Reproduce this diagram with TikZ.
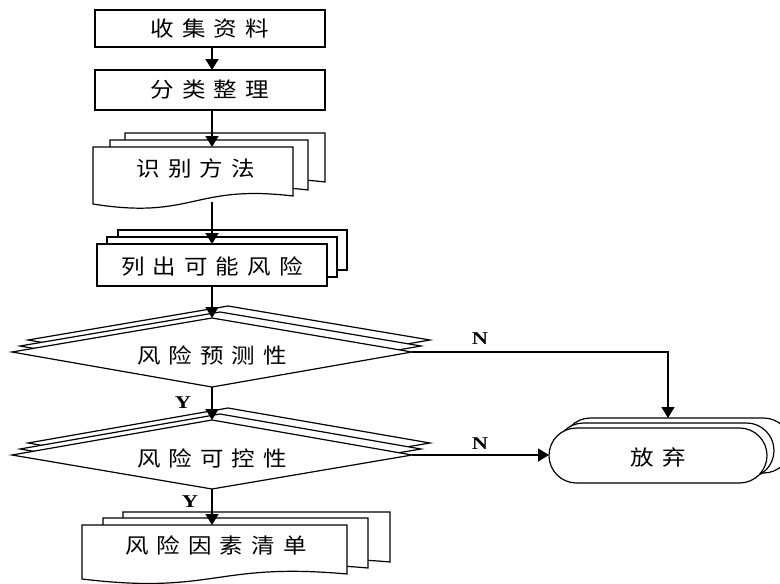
\documentclass[tikz,border=0pt]{standalone}
\usepackage{fontspec}
\usetikzlibrary{arrows.meta}
\newfontfamily\cjk[FakeStretch=1.12]{Noto Sans CJK SC}
\newfontfamily\latf[FakeStretch=1.25]{Liberation Serif}
\newcommand\gp{\hspace{8pt}}
% document shape: x1, top, x2, left-bottom y, right-bottom y
\newcommand\docsh[5]{\draw[shp] (#1,#2) -- (#3,#2) -- (#3,#5) .. controls ({(#1+#3)/2},{#5-12}) and ({(#1+#3)/2},{#4+16}) .. (#1,#4) -- cycle;}
\begin{document}
\begin{tikzpicture}[x=1pt,y=-1pt,
  shp/.style={draw=black, line width=1.2pt, fill=white, line join=miter},
  lbl/.style={font={\cjk\fontsize{21}{25}\selectfont}, inner sep=0pt},
  yn/.style={font={\latf\bfseries\fontsize{18}{20}\selectfont}, inner sep=0pt},
  arr/.style={draw=black, line width=1.8pt, -{Triangle[length=11pt,width=13pt]}},
  narr/.style={draw=black, line width=1.3pt, -{Triangle[length=11pt,width=13pt]}}]
\useasboundingbox (0,0) rectangle (780,584);

% box 1
\draw[shp] (95,10) rectangle (325,47);
\node[lbl] (t1) at (210,29) {收\gp{}集\gp{}资\gp{}料};
% box 2
\draw[shp] (95,70) rectangle (325,110);
\node[lbl] (t2) at (210,90) {分\gp{}类\gp{}整\gp{}理};
% box 3 (multi-document)
\docsh{125}{133}{325}{190}{182}
\docsh{110}{140}{308}{197}{190}
\docsh{93}{147}{293}{204}{196}
\node[lbl] (t3) at (196,168) {识\gp{}别\gp{}方\gp{}法};
% box 4 (stacked rectangles)
\draw[shp] (118,230) rectangle (347,270);
\draw[shp] (107,237) rectangle (337,277);
\draw[shp] (97,244) rectangle (327,286);
\node[lbl] (t4) at (212,266) {列\gp{}出\gp{}可\gp{}能\gp{}风\gp{}险};
% diamond 1
\draw[shp] (28,340) -- (228,306) -- (430,340) -- (228,375) -- cycle;
\draw[shp] (20,346) -- (220,312) -- (421,346) -- (220,381) -- cycle;
\draw[shp] (12,352) -- (212,318) -- (412,352) -- (212,387) -- cycle;
\node[lbl] (t5) at (212,355) {风\gp{}险\gp{}预\gp{}测\gp{}性};
% diamond 2
\draw[shp] (28,443) -- (228,408) -- (430,443) -- (228,477) -- cycle;
\draw[shp] (20,449) -- (220,414) -- (421,449) -- (220,483) -- cycle;
\draw[shp] (12,455) -- (212,420) -- (412,455) -- (212,489) -- cycle;
\node[lbl] (t6) at (212,458) {风\gp{}险\gp{}可\gp{}控\gp{}性};
% box 5 (multi-document)
\docsh{123}{512}{390}{566}{562}
\docsh{103}{518}{368}{572}{568}
\docsh{82}{525}{347}{579}{574}
\node[lbl] (t7) at (216,545) {风\gp{}险\gp{}因\gp{}素\gp{}清\gp{}单};
% terminator (stacked)
\draw[shp, rounded corners=27.5] (563,418) rectangle (791,473);
\draw[shp, rounded corners=27.5] (556,423) rectangle (774,478);
\draw[shp, rounded corners=27.5] (549,428) rectangle (767,483);
\node[lbl] (t8) at (658,457) {放\gp{}弃};

% anchor coordinates
\coordinate (b1s) at (212,47);
\coordinate (b2n) at (212,70);
\coordinate (b2s) at (212,110);
\coordinate (b3n) at (212,147);
\coordinate (b3s) at (212,202);
\coordinate (b4n) at (212,244);
\coordinate (b4s) at (212,286);
\coordinate (d1n) at (212,318);
\coordinate (d1s) at (212,387);
\coordinate (d1e) at (412,352);
\coordinate (d2n) at (212,420);
\coordinate (d2s) at (212,489);
\coordinate (d2e) at (412,455);
\coordinate (b5n) at (212,525);
\coordinate (abn) at (668,418);
\coordinate (abw) at (549,455);

% connectors
\draw[arr] (b1s) -- (b2n);
\draw[arr] (b2s) -- (b3n);
\draw[arr] (b3s) -- (b4n);
\draw[arr] (b4s) -- (d1n);
\draw[arr] (d1s) -- (d2n);
\draw[arr] (d2s) -- (b5n);
\draw[narr] (d1e) -| (abn);
\draw[narr] (d2e) -- (abw);

% labels
\node[yn] (y1) at (183,403) {Y};
\node[yn] (y2) at (190,502) {Y};
\node[yn] (n1) at (480,339) {N};
\node[yn] (n2) at (480,444) {N};
\end{tikzpicture}
\end{document}
